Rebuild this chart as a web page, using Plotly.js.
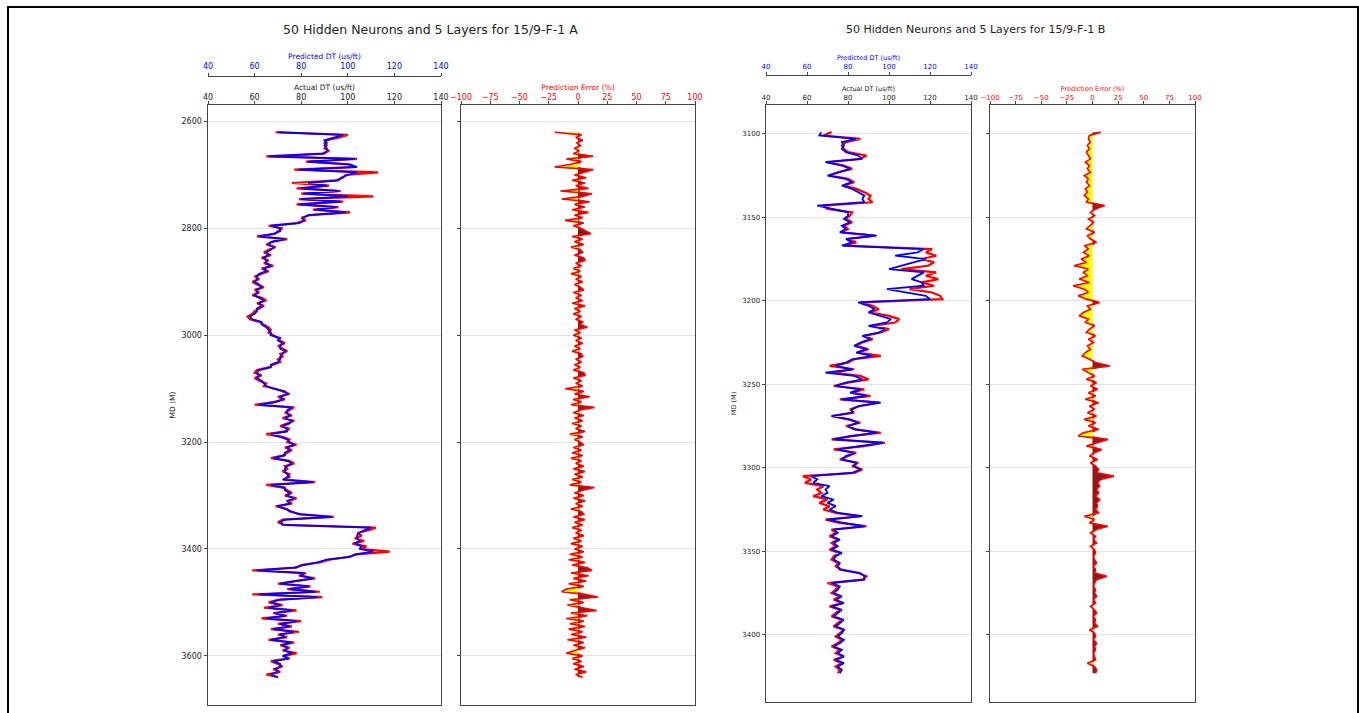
<!DOCTYPE html>
<html>
<head>
<meta charset="utf-8">
<script src="https://cdn.plot.ly/plotly-3.0.1.min.js"></script>
<style>html,body{margin:0;padding:0;background:#fff;}#chart{width:1359px;height:713px;}</style>
</head>
<body>
<div id="chart"></div>
<script>
// ---------- Well 15/9-F-1 A ----------
const depthA = [
2620,2625,2630,2635,2640,2645,2650,2655,2660,2665,
2670,2675,2680,2685,2690,2695,2700,2705,2710,2715,
2720,2725,2730,2735,2740,2745,2750,2755,2760,2765,
2770,2775,2780,2785,2790,2795,2800,2805,2810,2815,
2820,2825,2830,2835,2840,2845,2850,2855,2860,2865,
2870,2875,2880,2885,2890,2895,2900,2905,2910,2915,
2920,2925,2930,2935,2940,2945,2950,2955,2960,2965,
2970,2975,2980,2985,2990,2995,3000,3005,3010,3015,
3020,3025,3030,3035,3040,3045,3050,3055,3060,3065,
3070,3075,3080,3085,3090,3095,3100,3105,3110,3115,
3120,3125,3130,3135,3140,3145,3150,3155,3160,3165,
3170,3175,3180,3185,3190,3195,3200,3205,3210,3215,
3220,3225,3230,3235,3240,3245,3250,3255,3260,3265,
3270,3275,3280,3285,3290,3295,3300,3305,3310,3315,
3320,3325,3330,3335,3340,3345,3350,3355,3360,3365,
3370,3375,3380,3385,3390,3395,3400,3405,3410,3415,
3420,3425,3430,3435,3440,3445,3450,3455,3460,3465,
3470,3475,3480,3485,3490,3495,3500,3505,3510,3515,
3520,3525,3530,3535,3540,3545,3550,3555,3560,3565,
3570,3575,3580,3585,3590,3595,3600,3605,3610,3615,
3620,3625,3630,3635,3640];
const actualDtA = [
69,100,96,91,90,91,90,92,89,65,
104,82,100,103,77,113,99,98,95,76,
92,78,97,80,111,79,98,78,96,85,
101,84,80,82,78,66,72,70,69,61,
74,68,65,69,66,64,67,63,66,64,
68,63,66,63,60,62,59,61,64,60,
62,59,63,65,61,64,62,60,59,57,
58,62,64,66,67,66,68,70,71,73,
70,72,74,71,72,70,71,68,66,61,
60,63,60,62,65,64,69,72,75,70,
73,68,60,77,75,73,76,72,77,74,
71,75,73,65,72,75,74,78,73,76,
74,72,67,75,77,73,74,72,75,74,
73,86,65,72,74,76,73,78,75,76,
69,74,75,80,94,72,70,73,112,109,
104,106,103,107,102,108,106,118,104,100,
92,88,80,78,59,82,79,86,77,70,
84,74,88,59,89,70,66,72,64,78,
68,74,63,80,70,76,67,79,70,74,
66,77,71,75,72,78,73,74,67,70,
72,68,71,65,70];
const predDtA = [
70,98,94,90,91,90,91,91,90,66,
103,83,101,104,79,104,100,97,96,83,
91,80,96,81,100,80,97,79,95,86,
99,83,81,81,79,67,71,71,68,62,
73,67,66,68,67,65,66,64,65,65,
67,64,65,62,61,61,60,62,63,61,
61,60,62,64,62,63,61,61,60,58,
59,63,63,65,66,67,67,71,70,72,
71,71,73,72,71,71,70,67,67,62,
61,62,61,63,64,65,68,73,74,71,
72,69,62,76,74,74,75,73,76,75,
72,74,74,67,71,74,75,77,74,75,
73,73,68,74,76,74,73,73,74,75,
72,85,67,73,73,75,74,77,74,75,
70,73,76,79,93,73,71,72,110,107,
105,104,104,105,103,106,105,111,103,101,
91,87,81,77,61,81,80,85,78,71,
83,75,86,62,87,71,67,71,66,76,
69,73,65,78,71,75,68,77,71,73,
67,76,72,74,73,76,72,75,68,71,
71,69,70,67,70];
const errA = [
-20,3,-2,4,-1,2,-3,1,-4,13,
-10,3,-6,-20,13,5,-3,7,-5,6,
-2,9,-15,12,4,-14,10,-3,6,-5,
9,-3,4,-11,5,-4,3,7,11,-5,
4,-3,5,-6,2,4,-3,5,6,-2,
3,-4,2,-6,3,-2,4,-3,2,5,
-4,3,-2,4,-5,6,-3,2,-4,3,
-2,4,2,8,-3,2,-4,3,-2,4,
-3,2,-5,3,4,-2,3,-3,2,-4,
5,6,-4,3,-2,4,-11,5,-3,10,
-4,3,-6,14,2,-4,5,-3,4,-5,
3,-2,6,-7,4,-3,2,5,-4,3,
-5,4,-6,3,-2,5,-4,6,-3,4,
-5,3,-7,14,4,-3,5,-4,6,-2,
4,-6,3,5,-4,6,-3,4,-5,3,
-2,5,-4,3,-6,4,-3,5,-7,4,
-8,6,-5,8,12,-6,9,-4,7,-8,
5,-10,-14,6,17,-7,5,-9,4,16,
-6,8,-10,5,-7,6,-8,4,-6,7,
-9,5,-4,6,-3,-10,4,-5,3,-4,
5,-3,7,-2,4];

// ---------- Well 15/9-F-1 B ----------
const depthB = [
3099,3101,3103,3105,3107,3109,3111,3113,3115,3117,
3119,3121,3123,3125,3127,3129,3131,3133,3135,3137,
3139,3141,3143,3145,3147,3149,3151,3153,3155,3157,
3159,3161,3163,3165,3167,3169,3171,3173,3175,3177,
3179,3181,3183,3185,3187,3189,3191,3193,3195,3197,
3199,3201,3203,3205,3207,3209,3211,3213,3215,3217,
3219,3221,3223,3225,3227,3229,3231,3233,3235,3237,
3239,3241,3243,3245,3247,3249,3251,3253,3255,3257,
3259,3261,3263,3265,3267,3269,3271,3273,3275,3277,
3279,3281,3283,3285,3287,3289,3291,3293,3295,3297,
3299,3301,3303,3305,3307,3309,3311,3313,3315,3317,
3319,3321,3323,3325,3327,3329,3331,3333,3335,3337,
3339,3341,3343,3345,3347,3349,3351,3353,3355,3357,
3359,3361,3363,3365,3367,3369,3371,3373,3375,3377,
3379,3381,3383,3385,3387,3389,3391,3393,3395,3397,
3399,3401,3403,3405,3407,3409,3411,3413,3415,3417,
3419,3421,3423];
const actualDtB = [
72,68,86,79,77,78,80,89,86,70,
78,82,75,71,80,83,78,84,88,91,
90,92,68,70,82,81,79,82,78,80,
77,93,80,84,78,121,118,123,116,122,
119,106,123,118,124,116,122,110,121,125,
126,86,92,95,91,100,105,103,92,100,
96,88,92,87,84,90,85,96,83,80,
71,83,72,86,90,80,73,88,82,91,
76,95,86,81,83,72,80,86,79,84,
96,82,72,98,88,73,84,80,76,85,
82,87,83,58,62,59,68,65,67,63,
70,66,71,68,74,86,69,76,89,72,
74,71,75,72,74,71,76,73,72,75,
74,77,85,89,87,70,75,74,72,76,
73,77,71,76,74,72,77,75,73,78,
76,74,77,75,72,76,74,78,73,77,
74,76,75];
const predDtB = [
67,66,84,77,78,77,79,85,87,69,
77,81,76,70,79,82,77,82,85,88,
87,88,65,73,80,80,78,81,77,79,
76,94,79,82,77,117,114,103,118,112,
106,100,117,114,111,116,117,99,108,118,
120,85,90,93,90,96,101,99,90,98,
95,87,91,86,83,89,84,92,82,79,
74,82,69,83,87,79,74,86,81,89,
77,96,85,82,82,72,81,85,80,83,
94,81,73,97,86,75,83,79,77,84,
83,86,82,62,65,63,71,69,70,67,
73,70,74,71,75,87,70,78,88,73,
75,72,76,73,75,72,77,74,73,76,
75,76,86,88,88,72,76,75,73,77,
74,78,72,77,75,73,78,76,74,78,
77,75,78,76,73,77,75,78,74,78,
75,77,76];
const errB = [
8,-3,-4,-2,-5,-3,-6,-4,-2,-7,
-3,-5,-2,-8,-4,-6,-3,-7,-5,-8,
-4,-6,12,3,-2,2,-4,1,-3,-6,
2,-5,-2,4,-8,-4,-9,-3,-11,-6,
-18,-4,-9,-5,-13,-3,-19,-8,-4,-14,
-6,7,-5,-2,-9,-13,-4,-7,2,-3,
-6,3,-4,1,-5,-2,-7,-10,-3,3,
17,-10,-4,2,-6,4,-2,5,-4,3,
-7,6,-3,2,-5,4,-8,3,-4,6,
-9,-14,15,4,-6,9,2,-3,5,-2,
3,6,4,21,8,5,7,4,6,3,
7,4,5,3,6,-8,2,-3,15,4,
-2,3,1,4,-2,2,3,1,2,4,
1,3,2,14,4,2,1,3,2,4,
1,3,-2,2,4,1,3,2,5,-3,
2,3,1,4,2,3,1,2,3,-5,
2,4,3];

// ---------- Tick labels ----------
const dtTicks = [40,60,80,100,120,140];
const errTicks = [-100,-75,-50,-25,0,25,50,75,100];
const depthTicksA = [2600,2800,3000,3200,3400,3600];
const depthTicksB = [3100,3150,3200,3250,3300,3350,3400];
const titleA = '50 Hidden Neurons and 5 Layers for 15/9-F-1 A';
const titleB = '50 Hidden Neurons and 5 Layers for 15/9-F-1 B';

// ---------- Layout helpers ----------
const W = 1359, H = 713;
const px = v => v / W;
const py = v => 1 - v / H;
const FONT = 'DejaVu Sans, Liberation Sans, sans-serif';
const AX = '#444';

function dtAxis(dom, anchor, fs, tcol, title, stand) {
  return {domain: dom, range: [40, 140], side: 'top', anchor: anchor,
    tickvals: dtTicks, ticks: 'outside', ticklen: 3.5, tickcolor: AX, tickwidth: 1,
    ticklabelstandoff: stand,
    showline: true, linecolor: AX, linewidth: 1, mirror: true,
    showgrid: false, zeroline: false,
    tickfont: {family: FONT, size: fs, color: tcol},
    title: {text: title, font: {family: FONT, size: fs - 0.5, color: tcol}, standoff: 1}};
}
function predAxis(over, pos, fs) {
  return {overlaying: over, range: [40, 140], side: 'top', anchor: 'free', position: pos,
    tickvals: dtTicks, ticks: 'outside', ticklen: 3.5, tickcolor: AX, tickwidth: 1,
    showline: true, linecolor: AX, linewidth: 1,
    showgrid: false, zeroline: false,
    tickfont: {family: FONT, size: fs, color: '#0000ff'},
    title: {text: 'Predicted DT (us/ft)', font: {family: FONT, size: fs - 0.5, color: '#0000ff'}, standoff: 0}};
}
function errAxis(dom, anchor, fs, stand) {
  return {domain: dom, range: [-100, 100], side: 'top', anchor: anchor,
    tickvals: errTicks, ticks: 'outside', ticklen: 3.5, tickcolor: AX, tickwidth: 1,
    ticklabelstandoff: stand,
    showline: true, linecolor: AX, linewidth: 1, mirror: true,
    showgrid: false, zeroline: false,
    tickfont: {family: FONT, size: fs, color: '#ff0000'},
    title: {text: 'Prediction Error (%)', font: {family: FONT, size: fs - 0.5, color: '#ff0000'}, standoff: 1}};
}
function depthAxis(dom, anchor, range, ticks, fs, labels, match) {
  const a = {domain: dom, range: range, anchor: anchor, autorange: false,
    tickvals: ticks, ticks: 'outside', ticklen: 3.5, tickcolor: AX, tickwidth: 1,
    showline: true, linecolor: AX, linewidth: 1, mirror: true,
    showgrid: true, gridcolor: '#e4e4e4', gridwidth: 1, zeroline: false,
    showticklabels: labels,
    tickfont: {family: FONT, size: fs, color: '#222'}};
  if (labels) a.title = {text: 'MD (M)', font: {family: FONT, size: fs - 0.5, color: '#222'}, standoff: 4};
  if (match) a.matches = match;
  return a;
}

// ---------- Traces ----------
const pos = arr => arr.map(v => Math.max(0, v));
const neg = arr => arr.map(v => Math.min(0, v));
function errTraces(depth, err, xa, ya) {
  return [
    {x: neg(err), y: depth, xaxis: xa, yaxis: ya, type: 'scatter', mode: 'lines',
     fill: 'tozerox', fillcolor: '#ffff00', line: {width: 0, color: 'rgba(0,0,0,0)'}, hoverinfo: 'skip'},
    {x: pos(err), y: depth, xaxis: xa, yaxis: ya, type: 'scatter', mode: 'lines',
     fill: 'tozerox', fillcolor: '#8b1a1a', line: {width: 0, color: 'rgba(0,0,0,0)'}, hoverinfo: 'skip'},
    {x: err, y: depth, xaxis: xa, yaxis: ya, type: 'scatter', mode: 'lines',
     line: {color: '#ff0000', width: 1.6}}
  ];
}

const data = [
  {x: actualDtA, y: depthA, xaxis: 'x', yaxis: 'y', type: 'scatter', mode: 'lines', line: {color: '#ff0000', width: 2.2}},
  {x: predDtA, y: depthA, xaxis: 'x2', yaxis: 'y', type: 'scatter', mode: 'lines', line: {color: '#0000ff', width: 1.8}},
  ...errTraces(depthA, errA, 'x3', 'y2'),
  {x: actualDtB, y: depthB, xaxis: 'x4', yaxis: 'y3', type: 'scatter', mode: 'lines', line: {color: '#ff0000', width: 2.2}},
  {x: predDtB, y: depthB, xaxis: 'x5', yaxis: 'y3', type: 'scatter', mode: 'lines', line: {color: '#0000ff', width: 1.8}},
  ...errTraces(depthB, errB, 'x6', 'y4')
];

const domAy = [py(705), py(105)];
const domBy = [py(702), py(105)];
const rangeA = [3692, 2569];
const rangeB = [3440.25, 3082.75];

const layout = {
  width: W, height: H, margin: {l: 0, r: 0, t: 0, b: 0, pad: 0},
  paper_bgcolor: '#fff', plot_bgcolor: '#fff', showlegend: false, hovermode: false,
  font: {family: FONT, color: '#222'},
  xaxis: dtAxis([px(208), px(441)], 'y', 8, '#222', 'Actual DT (us/ft)', -3),
  xaxis2: predAxis('x', py(76), 8),
  xaxis3: errAxis([px(461), px(695)], 'y2', 8, -3),
  yaxis: depthAxis(domAy, 'x', rangeA, depthTicksA, 8, true, null),
  yaxis2: depthAxis(domAy, 'x3', rangeA, depthTicksA, 8, false, 'y'),
  xaxis4: dtAxis([px(766), px(971)], 'y3', 7, '#222', 'Actual DT (us/ft)', -2),
  xaxis5: predAxis('x4', py(75), 7),
  xaxis6: errAxis([px(990), px(1195)], 'y4', 7, -2),
  yaxis3: depthAxis(domBy, 'x4', rangeB, depthTicksB, 7, true, null),
  yaxis4: depthAxis(domBy, 'x6', rangeB, depthTicksB, 7, false, 'y3'),
  annotations: [
    {text: titleA, xref: 'paper', yref: 'paper', x: px(431), y: py(30), xanchor: 'center', yanchor: 'middle',
     showarrow: false, font: {family: FONT, size: 12.5, color: '#222'}},
    {text: titleB, xref: 'paper', yref: 'paper', x: px(975), y: py(30), xanchor: 'center', yanchor: 'middle',
     showarrow: false, font: {family: FONT, size: 11, color: '#222'}}
  ],
  shapes: [
    {type: 'line', xref: 'paper', yref: 'paper', x0: px(7), x1: 1, y0: py(7), y1: py(7), line: {color: '#000', width: 2}},
    {type: 'line', xref: 'paper', yref: 'paper', x0: px(8), x1: px(8), y0: py(6), y1: 0, line: {color: '#000', width: 2}},
    {type: 'line', xref: 'paper', yref: 'paper', x0: px(1358), x1: px(1358), y0: py(6), y1: 0, line: {color: '#000', width: 2}}
  ]
};

Plotly.newPlot('chart', data, layout, {displayModeBar: false, staticPlot: true});
</script>
</body>
</html>
